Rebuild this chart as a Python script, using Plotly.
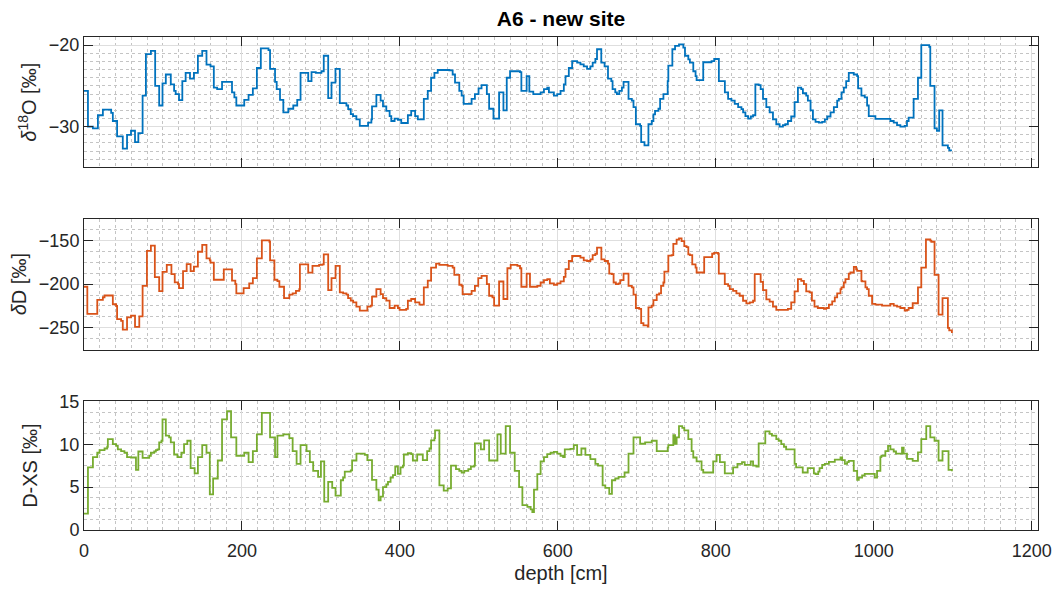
import plotly.graph_objects as go

# ---- Isotope profile of core A6 (stair-step records vs depth) ----

# delta 18O [permil]: depth where each step starts, value of the step
d18o_depth = [0, 5.0, 11.3, 17.6, 23.9, 34.4, 36.5, 41.9, 49.1, 54.5, 59.5, 64.6, 68.8, 74.2, 78.4, 84.7,
              90.1, 95.2, 99.4, 103.6, 109.9, 114.1, 116.1, 120.3, 124.5, 128.7, 134.2, 139.2, 144.2, 149.7,
              155.1, 160.2, 164.4, 168.6, 174.8, 187.4, 190.4, 192.9, 202.9, 208.4, 213.8, 218.9, 223.9,
              233.6, 235.6, 241.9, 244.0, 248.2, 252.4, 258.7, 265.0, 270.0, 274.2, 283.9, 288.1, 293.5,
              300.6, 303.6, 309.2, 313.4, 318.4, 323.9, 332.3, 334.5, 337.8, 340.7, 344.9, 349.2, 359.7,
              363.9, 364.7, 370.2, 375.6, 378.6, 382.8, 387.0, 389.1, 393.3, 397.5, 401.7, 410.1, 414.3,
              419.3, 422.7, 430.3, 435.3, 439.5, 443.7, 447.9, 462.6, 466.8, 469.8, 475.2, 478.2, 480.7,
              490.8, 495.0, 499.6, 503.4, 510.1, 513.0, 518.5, 525.6, 531.1, 535.3, 539.5, 552.1, 553.8,
              560.5, 563.9, 568.9, 578.2, 582.4, 586.6, 588.7, 595.0, 599.2, 603.4, 607.6, 609.7, 613.9,
              618.1, 624.4, 628.6, 632.8, 637.0, 641.2, 644.1, 647.5, 649.6, 655.0, 659.2, 663.5, 667.7,
              669.3, 672.7, 674.8, 677.8, 681.1, 683.2, 689.5, 693.7, 695.8, 698.8, 704.2, 705.5, 709.7,
              714.7, 718.9, 721.0, 723.1, 727.4, 729.5, 733.7, 739.1, 739.9, 745.0, 748.4, 753.4, 758.9,
              761.0, 765.2, 767.2, 771.5, 774.4, 775.7, 784.1, 794.6, 798.0, 803.9, 811.5, 815.6, 819.8,
              824.0, 828.3, 832.5, 834.6, 837.5, 840.9, 844.3, 847.2, 850.1, 854.3, 856.8, 859.8, 864.0,
              868.2, 872.4, 876.6, 880.8, 885.0, 888.0, 891.3, 895.5, 899.8, 904.0, 908.2, 910.3, 914.5,
              916.6, 920.0, 923.0, 926.3, 930.5, 934.7, 938.1, 941.1, 945.3, 949.5, 953.7, 955.8, 959.2,
              962.1, 965.1, 968.4, 974.7, 979.0, 980.2, 984.4, 988.6, 991.6, 993.7, 1002.1, 1021.1, 1025.3,
              1029.5, 1033.7, 1039.2, 1042.1, 1044.2, 1050.5, 1056.0, 1060.2, 1070.3, 1071.6, 1077.0,
              1080.0, 1082.9, 1087.1, 1093.9, 1095.6, 1099.0]
d18o_value = [-25.6, -30.0, -30.2, -28.6, -27.9, -28.3, -29.3, -31.2, -32.7, -31.0, -30.5, -31.9, -30.8, -26.2,
              -21.1, -20.7, -25.0, -27.4, -24.7, -23.6, -24.8, -25.6, -26.0, -26.75, -24.4, -23.4, -24.1, -23.4,
              -21.3, -20.7, -22.4, -22.6, -25.2, -25.4, -24.5, -25.8, -26.4, -27.4, -26.7, -26.1, -25.3, -22.8,
              -20.4, -20.6, -22.9, -24.5, -25.4, -26.7, -28.25, -27.8, -27.4, -26.7, -23.4, -24.4, -23.3, -23.4,
              -23.2, -21.3, -26.5, -24.6, -22.9, -27.1, -27.4, -27.85, -28.45, -28.7, -29.1, -29.9, -29.5,
              -29.1, -27.5, -26.1, -26.8, -27.5, -28.05, -28.7, -29.3, -29.0, -29.15, -29.55, -28.6, -28.05,
              -28.7, -29.1, -26.6, -25.6, -24.0, -23.4, -23.05, -23.1, -23.6, -24.6, -25.6, -26.2, -27.2,
              -26.6, -26.0, -25.3, -24.9, -26.0, -27.8, -29.0, -25.8, -28.0, -24.0, -23.2, -23.3, -25.6,
              -23.8, -25.7, -26.0, -25.8, -25.4, -25.2, -25.8, -26.2, -26.0, -25.6, -24.8, -23.8, -22.8,
              -21.95, -22.15, -22.35, -22.6, -22.9, -22.6, -22.15, -21.7, -20.5, -22.15, -22.6, -24.1, -24.4,
              -25.4, -25.8, -26.0, -25.6, -25.2, -24.5, -26.6, -26.8, -27.6, -29.7, -29.9, -31.9, -32.3,
              -29.7, -29.3, -28.5, -28.05, -27.8, -26.6, -26.0, -24.4, -22.5, -20.5, -20.1, -19.9, -20.3,
              -21.3, -21.75, -22.15, -23.2, -23.8, -24.3, -22.1, -21.95, -21.7, -24.4, -25.8, -26.6, -26.8,
              -27.2, -27.6, -27.85, -28.25, -28.7, -29.0, -28.75, -28.6, -24.8, -24.9, -25.4, -26.6, -27.6,
              -28.25, -29.1, -29.7, -30.0, -29.8, -29.7, -29.3, -28.75, -27.0, -25.2, -25.4, -25.9, -26.2,
              -26.8, -28.0, -29.1, -29.4, -29.5, -29.4, -29.1, -28.75, -28.25, -27.6, -26.8, -26.6, -25.8,
              -25.2, -24.4, -23.4, -23.6, -23.8, -25.3, -26.2, -26.4, -27.4, -28.7, -29.05, -29.3, -29.5,
              -29.8, -30.0, -29.9, -29.3, -28.9, -26.6, -24.0, -20.0, -20.2, -25.0, -30.2, -30.5, -28.0,
              -32.3, -32.6, -32.9, -32.9]

# delta D [permil]
dd_depth = [0, 4.2, 16.8, 23.9, 26.0, 36.5, 40.7, 41.9, 47.0, 49.1, 54.5, 59.5, 64.6, 70.0, 74.2, 79.7, 84.7,
            89.7, 95.2, 99.4, 104.8, 110.7, 114.9, 119.1, 120.3, 125.4, 130.0, 135.0, 139.2, 144.2, 149.7,
            155.1, 159.3, 160.2, 164.4, 177.0, 187.4, 191.6, 192.9, 202.1, 209.2, 213.8, 218.9, 225.2,
            234.8, 235.6, 241.1, 244.9, 247.4, 253.3, 260.0, 264.2, 268.4, 272.6, 273.4, 283.9, 289.3,
            297.7, 301.9, 303.6, 309.2, 313.4, 318.5, 323.9, 328.1, 332.3, 334.4, 337.8, 340.8, 344.9,
            349.2, 358.8, 363.0, 364.7, 370.2, 375.6, 378.6, 382.8, 387.0, 393.3, 397.5, 399.6, 408.0,
            410.1, 414.3, 419.3, 424.8, 430.3, 435.3, 439.5, 445.8, 450.0, 460.5, 466.8, 468.9, 475.2,
            478.2, 479.4, 490.8, 495.0, 499.2, 503.4, 510.1, 513.0, 517.2, 519.3, 525.6, 531.1, 536.1,
            540.3, 548.8, 552.1, 553.8, 560.5, 564.7, 574.0, 578.2, 582.4, 586.6, 589.9, 595.0, 599.2,
            603.4, 607.6, 609.7, 613.9, 618.1, 624.4, 628.6, 632.8, 637.0, 641.2, 644.1, 647.5, 649.6,
            655.1, 659.3, 663.5, 665.1, 668.5, 670.6, 673.5, 676.9, 679.0, 683.2, 689.5, 693.7, 695.8,
            698.8, 703.0, 705.5, 708.4, 713.9, 714.7, 718.9, 721.0, 725.2, 728.2, 730.7, 733.6, 734.9,
            739.9, 744.1, 746.2, 750.4, 753.4, 756.7, 760.1, 763.0, 765.2, 767.3, 770.2, 774.4, 775.7,
            785.3, 795.4, 797.9, 802.9, 803.8, 811.4, 815.6, 817.7, 821.9, 826.1, 830.3, 834.5, 838.7,
            843.0, 847.2, 849.3, 856.8, 859.8, 864.0, 868.2, 872.4, 876.6, 891.3, 895.5, 899.8, 904.0,
            908.2, 911.6, 914.5, 918.7, 921.7, 925.0, 929.2, 936.9, 939.8, 943.2, 947.4, 950.7, 953.7,
            957.9, 959.2, 962.1, 964.2, 968.4, 970.5, 974.8, 977.7, 979.0, 984.4, 985.3, 989.5, 991.6,
            993.7, 997.9, 1002.1, 1010.5, 1021.1, 1025.3, 1029.5, 1033.7, 1039.2, 1042.1, 1044.2, 1049.3,
            1056.0, 1060.2, 1066.1, 1071.6, 1072.9, 1077.0, 1082.1, 1087.1, 1093.9, 1095.6, 1099.0]
dd_value = [-203, -234, -218, -215, -213, -223, -225, -240, -242, -252, -238, -236, -249, -237, -202, -162,
            -156, -192, -208, -186, -178, -188.6, -198, -200, -204.5, -185, -177, -185, -180, -162.9, -155,
            -170.5, -172.7, -175.4, -195, -183, -196, -200, -210.6, -204.5, -199.2, -193.2, -170.5, -150,
            -151.5, -172.7, -195, -196.5, -203, -215.9, -212.1, -210.6, -207.6, -205.7, -177.3, -186.8,
            -179.2, -178.0, -177.3, -165.9, -206.8, -193.2, -179, -209.5, -210.6, -212.1, -215.9, -218.9,
            -220.8, -225.8, -230.3, -225.8, -224.6, -214.4, -205.7, -211.4, -215.9, -218.9, -227.3, -224.6,
            -227.3, -229.5, -228.4, -219, -217, -220.8, -223.5, -203.8, -196, -181, -176.5, -178, -179.2,
            -181, -189.4, -200.7, -201.9, -211.4, -207.6, -201.9, -193.2, -190.5, -200, -213.3, -215.2,
            -224.6, -197, -217, -181.8, -178, -179.2, -181.8, -203, -187.9, -203, -201.9, -198.1, -195.5,
            -194.3, -199.2, -200.7, -199.2, -196.9, -191.7, -182.9, -173.5, -167.8, -167.8, -169.7, -172.7,
            -173.5, -171.6, -166.7, -165.2, -158.3, -171.6, -173.5, -176.5, -187.9, -188.6, -198.1, -200,
            -199.2, -195.5, -187.9, -201.9, -203.8, -212.1, -227.3, -228.4, -244.7, -247.3, -248.5, -226.5,
            -224.6, -218.2, -212.1, -210.6, -201.9, -198.1, -185.6, -167.4, -166.7, -153.8, -149, -147.7,
            -150.8, -156.4, -157.6, -165.9, -166.7, -177.3, -181, -186.7, -169, -165.2, -164.1, -165.2,
            -187.9, -200, -201.9, -205.7, -207.6, -210.6, -213.3, -219, -222, -220.8, -219, -188.6, -197.3,
            -206.8, -217.4, -220.1, -225.8, -229.5, -228.4, -220.8, -208.3, -194.3, -196.2, -200, -208.3,
            -209.5, -218.9, -225.8, -227.3, -228.4, -227.3, -223.5, -219.7, -215.2, -210.6, -205.7, -203.8,
            -198.1, -194.3, -187.9, -186.7, -180.3, -183, -184.8, -196.2, -196.9, -203.8, -205.7, -213.3,
            -222.7, -223.5, -224.6, -222.7, -224.6, -225.8, -227.3, -230.3, -229.5, -227.3, -221.9, -203.8,
            -181, -148.9, -150.2, -151.5, -189.4, -235, -216, -250, -253, -256, -256]

# deuterium excess [permil]
dxs_depth = [0, 5.0, 11.3, 16.8, 19.7, 26.0, 29.4, 30.2, 36.5, 40.7, 42.8, 47.0, 51.2, 54.5, 59.5, 65.8, 68.8,
             74.2, 82.6, 84.7, 88.9, 91.0, 93.1, 95.2, 98.1, 99.4, 103.6, 107.8, 109.9, 114.1, 118.3, 123.3,
             126.7, 130.8, 135.0, 140.1, 144.2, 149.7, 155.1, 159.3, 163.5, 169.4, 174.8, 181.1, 186.2,
             192.9, 202.9, 208.4, 213.8, 218.9, 225.2, 235.6, 241.9, 244.9, 252.4, 260.0, 264.2, 269.2,
             274.2, 281.8, 286.0, 290.2, 296.4, 300.0, 304.2, 309.2, 314.3, 318.5, 325.2, 328.1, 330.2,
             337.8, 339.5, 345.0, 355.5, 358.8, 364.7, 370.2, 373.1, 375.6, 378.6, 382.8, 384.9, 388.2,
             391.2, 394.1, 397.5, 400.8, 403.8, 405.0, 410.1, 414.3, 416.4, 421.9, 429.0, 434.5, 437.5,
             439.5, 443.7, 444.5, 450.0, 455.5, 460.5, 464.7, 471.0, 475.2, 478.2, 481.5, 486.6, 489.9,
             494.1, 495.0, 502.5, 506.7, 513.0, 523.5, 527.7, 534.0, 539.5, 545.4, 550.9, 555.1, 561.4,
             565.6, 567.7, 569.8, 574.0, 578.2, 582.4, 586.6, 590.8, 595.0, 599.2, 603.4, 606.7, 608.8,
             616.0, 620.2, 624.4, 629.8, 634.9, 641.2, 647.5, 650.8, 656.7, 660.1, 665.1, 668.5, 672.7,
             676.9, 684.5, 689.5, 695.8, 704.2, 710.5, 718.9, 725.2, 739.1, 739.9, 746.2, 748.4, 750.4,
             753.4, 757.6, 760.1, 765.2, 769.4, 771.5, 775.7, 782.0, 784.1, 796.7, 801.0, 805.2, 811.4,
             821.9, 827.4, 833.2, 836.6, 844.2, 847.2, 851.4, 854.3, 862.7, 868.1, 871.1, 876.6, 879.6,
             882.9, 886.3, 889.1, 899.8, 901.7, 910.1, 916.4, 924.2, 926.3, 929.7, 931.4, 934.7, 938.1,
             943.2, 950.7, 957.9, 960.0, 963.4, 966.3, 968.4, 974.7, 979.0, 981.1, 985.3, 988.6, 1001.3,
             1004.2, 1008.4, 1009.7, 1014.7, 1018.1, 1021.1, 1025.3, 1028.2, 1035.8, 1037.9, 1042.1,
             1049.3, 1056.0, 1060.2, 1066.5, 1071.6, 1077.0, 1082.1, 1087.1, 1094.7, 1099.0]
dxs_value = [1.9, 7.3, 8.5, 9.0, 9.3, 9.5, 9.7, 10.6, 10.0, 9.8, 9.4, 9.2, 9.0, 8.5, 8.45, 7.0, 9.15, 8.4,
             8.65, 9.0, 9.15, 9.3, 9.4, 10.2, 10.4, 12.9, 11.0, 10.8, 10.2, 8.8, 8.5, 9.0, 10.0, 10.4, 7.2,
             6.6, 8.5, 9.9, 9.0, 4.15, 6.0, 8.1, 12.9, 13.85, 10.8, 8.65, 9.0, 7.9, 9.2, 11.15, 13.65, 10.8,
             8.5, 11.0, 11.15, 10.7, 9.2, 7.7, 9.9, 9.2, 7.9, 6.9, 6.2, 8.0, 3.3, 5.6, 4.9, 4.0, 5.8, 6.1,
             6.8, 6.95, 8.1, 8.9, 8.75, 8.15, 5.85, 4.7, 3.45, 3.9, 5.0, 5.3, 5.6, 6.1, 6.4, 7.4, 6.55, 7.3,
             7.5, 8.8, 8.95, 8.85, 8.1, 8.8, 8.15, 9.2, 9.5, 10.45, 10.7, 11.6, 5.2, 4.6, 4.85, 7.5, 7.1,
             6.9, 6.7, 6.9, 7.1, 7.4, 7.5, 10.1, 9.4, 10.45, 8.1, 11.15, 8.9, 12.1, 9.0, 6.9, 5.0, 2.9, 2.7,
             2.4, 2.1, 4.7, 6.5, 8.0, 8.5, 8.85, 9.0, 9.1, 8.9, 8.65, 8.5, 9.4, 9.45, 9.9, 8.75, 9.5, 8.75,
             8.25, 7.7, 7.5, 5.2, 4.9, 4.2, 5.8, 6.0, 6.2, 6.7, 8.9, 10.8, 10.05, 10.2, 10.4, 9.2, 9.6, 9.9,
             11.05, 10.05, 10.8, 12.1, 11.9, 11.6, 10.6, 9.2, 8.45, 8.0, 7.0, 6.7, 8.0, 8.75, 7.9, 6.6, 7.3,
             7.7, 7.9, 7.6, 8.0, 7.5, 7.4, 10.1, 11.5, 11.2, 11.0, 10.6, 10.4, 10.0, 9.7, 9.4, 7.7, 7.3, 6.7,
             7.2, 6.6, 6.5, 6.8, 7.2, 7.6, 7.7, 7.95, 8.2, 8.45, 8.15, 7.7, 7.9, 8.05, 6.9, 5.85, 6.1, 6.35,
             6.55, 6.1, 6.9, 8.5, 8.65, 9.2, 9.8, 9.4, 9.15, 8.9, 9.6, 8.9, 8.3, 8.05, 9.05, 10.6, 12.1,
             10.8, 10.4, 8.1, 9.2, 7.0, 6.85, 6.85]

# axis ticks
depth_ticks = [0, 200, 400, 600, 800, 1000, 1200]
d18o_ticks = [-30, -20]
dd_ticks = [-250, -200, -150]
dxs_ticks = [0, 5, 10, 15]

BLUE = "#0072BD"
ORANGE = "#D95319"
GREEN = "#77AC30"
AXIS = "#262626"
FONT = "Liberation Sans, Arial, sans-serif"
TICK_SIZE = 18
LABEL_SIZE = 20

fig = go.Figure()
for depth, value, color, n in [(d18o_depth, d18o_value, BLUE, ""),
                               (dd_depth, dd_value, ORANGE, "2"),
                               (dxs_depth, dxs_value, GREEN, "3")]:
    fig.add_trace(go.Scatter(x=depth, y=value, mode="lines", line_shape="hv",
                             line=dict(color=color, width=1.8),
                             xaxis="x" + n, yaxis="y" + n, showlegend=False,
                             hoverinfo="x+y"))

common = dict(showline=True, linecolor=AXIS, linewidth=1, mirror="ticks",
              ticks="inside", ticklen=9, tickcolor=AXIS, tickwidth=1,
              showgrid=True, gridcolor="#dedede", gridwidth=1, zeroline=False,
              tickfont=dict(family=FONT, size=TICK_SIZE, color=AXIS))
minor_grid = dict(showgrid=True, gridcolor="#c4c4c4", griddash="dot", gridwidth=1, ticks="")
label_font = dict(family=FONT, size=LABEL_SIZE, color=AXIS)

xcommon = dict(common, range=[0, 1208], tickvals=depth_ticks,
               minor=dict(minor_grid, dtick=20, tick0=0))

fig.update_layout(
    width=1064, height=593,
    margin=dict(l=84, r=21, t=37, b=62),
    paper_bgcolor="white", plot_bgcolor="white",
    font=dict(family=FONT, color=AXIS),
    xaxis=dict(xcommon, anchor="y", domain=[0, 1], showticklabels=False),
    xaxis2=dict(xcommon, anchor="y2", domain=[0, 1], showticklabels=False),
    xaxis3=dict(xcommon, anchor="y3", domain=[0, 1], ticklabelstandoff=4,
                title=dict(text="depth [cm]", font=label_font, standoff=6)),
    yaxis=dict(common, domain=[0.7354, 1.0], range=[-35, -19], tickvals=d18o_ticks,
               minor=dict(minor_grid, dtick=1, tick0=0),
               title=dict(text="<i>δ</i><sup>18</sup>O [‰]", font=label_font, standoff=6)),
    yaxis2=dict(common, domain=[0.3658, 0.6316], range=[-275, -125], tickvals=dd_ticks,
                minor=dict(minor_grid, dtick=12.5, tick0=0),
                title=dict(text="<i>δ</i>D [‰]", font=label_font, standoff=6)),
    yaxis3=dict(common, domain=[0.0, 0.2611], range=[0, 15], tickvals=dxs_ticks,
                minor=dict(minor_grid, dtick=1.25, tick0=0),
                title=dict(text="D-XS [‰]", font=label_font, standoff=16)),
    title=dict(text="<b>A6 - new site</b>", x=0.5, xref="paper", y=0.968, yref="container",
               xanchor="center", yanchor="middle",
               font=dict(family=FONT, size=21, color="#000000")),
)

fig.write_html("out.html")
